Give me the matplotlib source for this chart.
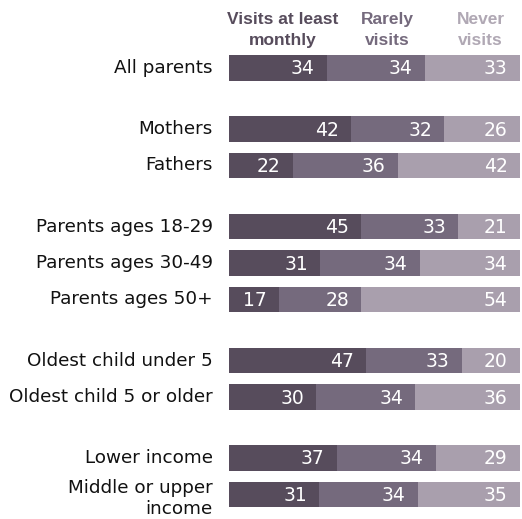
import matplotlib
matplotlib.use("Agg")
from matplotlib import pyplot as plt
import numpy as np

groups = [
    ["All parents"],
    ["Mothers", "Fathers"],
    ["Parents ages 18-29", "Parents ages 30-49", "Parents ages 50+"],
    ["Oldest child under 5", "Oldest child 5 or older"],
    ["Lower income", "Middle or upper\nincome"],
]
monthly = [34, 42, 22, 45, 31, 17, 47, 30, 37, 31]
rarely = [34, 32, 36, 33, 34, 28, 33, 34, 34, 34]
never = [33, 26, 42, 21, 34, 54, 20, 36, 29, 35]
series = ["Visits at least\nmonthly", "Rarely\nvisits", "Never\nvisits"]
colors = ["#574c5c", "#756a7d", "#a99fad"]
head_colors = ["#574c5c", "#756a7d", "#b0a8b4"]

# row positions in pixels (top to bottom)
labels = []
ypos = []
y = 68
for gi, g in enumerate(groups):
    for ri, lab in enumerate(g):
        if gi > 0 or ri > 0:
            y += 61 if ri == 0 else 36.5
        labels.append(lab)
        ypos.append(y)

vals = np.array([monthly, rarely, never], dtype=float)
vals = vals / vals.sum(axis=0) * 100

fig = plt.figure(figsize=(5.22, 5.19), dpi=100)
ax = fig.add_axes([229 / 522, 0, 291 / 522, 1])
ax.set_xlim(0, 100)
ax.set_ylim(519, 0)
ax.axis("off")

left = np.zeros(len(labels))
raw = [monthly, rarely, never]
for k in range(3):
    ax.barh(ypos, vals[k], left=left, height=25.5, color=colors[k])
    for i in range(len(labels)):
        ax.text(left[i] + vals[k][i] - 4.2, ypos[i] + 1, str(raw[k][i]),
                ha="right", va="center", color="white", fontsize=13.5,
                family="DejaVu Sans")
    left += vals[k]

for lab, yy in zip(labels, ypos):
    ax.text(-5.5, yy + (0 if "\n" not in lab else 4), lab, ha="right",
            va="center", fontsize=13.2, color="#111111", linespacing=1.25,
            family="DejaVu Sans")

head_x = [18.5, 54.5, 86.5]
for s, hx, c in zip(series, head_x, head_colors):
    ax.text(hx, 30, s, ha="center", va="center", fontsize=12.5,
            fontweight="bold", color=c, linespacing=1.45,
            family="Liberation Sans")

fig.savefig("out.png", dpi=100)
